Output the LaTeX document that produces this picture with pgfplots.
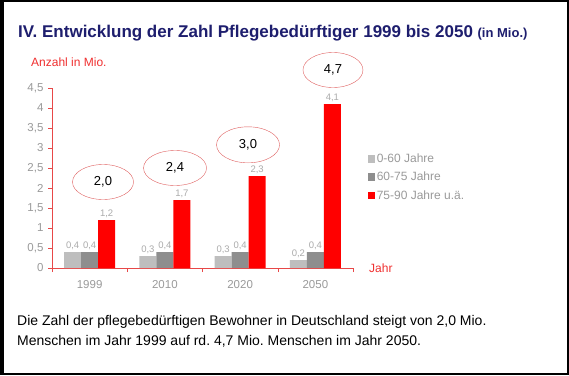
\documentclass[border=0pt]{standalone}
\usepackage{fontspec}
\setmainfont{Liberation Sans}
\usepackage{pgfplots}
\pgfplotsset{compat=1.18}
\usetikzlibrary{shapes.geometric}
\frenchspacing
\definecolor{navy}{HTML}{1E1E6E}
\definecolor{axred}{HTML}{E84848}
\definecolor{ellred}{HTML}{E06060}
\definecolor{lgray}{HTML}{BEBEBE}
\definecolor{dgray}{HTML}{8E8E8E}
\definecolor{tgray}{HTML}{9A9A9A}
\definecolor{lblgray}{HTML}{ABABAB}
\definecolor{barred}{HTML}{FF0000}
\definecolor{txtred}{HTML}{F03030}
\begin{document}
\begin{tikzpicture}[x=1pt,y=1pt]
\useasboundingbox (0,0) rectangle (569,375);
\fill[white] (0,0) rectangle (569,375);
\draw[line width=2pt] (1,1) rectangle (568,374);
\fill[black] (0,0) rectangle (4,375);
\node[anchor=base west, text=navy, inner sep=0pt] at (18,337)
  {\bfseries\fontsize{17}{20}\selectfont IV. Entwicklung der Zahl Pflegebedürftiger 1999 bis 2050 {\fontsize{13}{15}\selectfont (in Mio.)}};
\node[anchor=base west, text=txtred, inner sep=0pt] at (31,308) {\fontsize{12}{14}\selectfont Anzahl in Mio.};
\node[anchor=base west, text=txtred, inner sep=0pt] at (369,103) {\fontsize{12}{14}\selectfont Jahr};
\node[anchor=base west, inner sep=0pt, align=left, font=\fontsize{14}{20}\selectfont] at (17,30)
  {Die Zahl der pflegebedürftigen Bewohner in Deutschland steigt von 2,0 Mio.\\ Menschen im Jahr 1999 auf rd. 4,7 Mio. Menschen im Jahr 2050.};
\begin{axis}[
  at={(52pt,107pt)}, anchor=south west,
  scale only axis, width=301pt, height=180pt,
  xmin=-0.5, xmax=3.5, ymin=0, ymax=4.5,
  clip=false,
  axis x line=bottom, axis y line=left,
  axis line style={draw=axred, -},
  ybar=0pt, bar width=17pt,
  xtick={0,1,2,3}, xticklabels={1999,2010,2020,2050},
  minor xtick={-0.5,0.5,1.5,2.5,3.5},
  major x tick style={draw=none},
  minor x tick style={draw=axred},
  ytick={0,0.5,...,4.5},
  y tick style={draw=axred},
  tick align=outside,
  major tick length=4pt, minor tick length=4pt,
  ticklabel style={text=tgray, font=\fontsize{11.5}{13}\selectfont},
  /pgf/number format/assume math mode=true,
  /pgf/number format/use comma,
  /pgf/number format/fixed,
  yticklabel style={xshift=-1pt},
  xticklabel style={yshift=-5pt},
  nodes near coords,
  nodes near coords style={text=lblgray, font=\fontsize{9.5}{11}\selectfont, /pgf/number format/fixed, /pgf/number format/fixed zerofill, /pgf/number format/precision=1, /pgf/number format/use comma, inner sep=2pt},
  legend style={at={(1.05,0.645)}, anchor=north west, draw=none, fill=none,
    font=\fontsize{12}{14}\selectfont, text=tgray, row sep=4pt, inner sep=0pt},
  legend cell align=left,
  legend image code/.code={\fill[#1] (0pt,-3.5pt) rectangle (6.5pt,4pt);},
]
\addplot[fill=lgray, draw=none] coordinates {(0,0.4) (1,0.3) (2,0.3) (3,0.2)};
\addplot[fill=dgray, draw=none] coordinates {(0,0.4) (1,0.4) (2,0.4) (3,0.4)};
\addplot[fill=barred, draw=none] coordinates {(0,1.2) (1,1.7) (2,2.3) (3,4.1)};
\legend{0-60 Jahre, 60-75 Jahre, 75-90 Jahre u.ä.}
\node[draw=ellred, ellipse, minimum width=61pt, minimum height=35pt, font=\fontsize{13}{15}\selectfont] at (axis cs:0.178,2.15) {2,0};
\node[draw=ellred, ellipse, minimum width=63pt, minimum height=35pt, font=\fontsize{13}{15}\selectfont] at (axis cs:1.135,2.5) {2,4};
\node[draw=ellred, ellipse, minimum width=63pt, minimum height=36pt, font=\fontsize{13}{15}\selectfont] at (axis cs:2.105,3.08) {3,0};
\node[draw=ellred, ellipse, minimum width=60pt, minimum height=35pt, font=\fontsize{13}{15}\selectfont] at (axis cs:3.234,4.95) {4,7};
\end{axis}
\end{tikzpicture}
\end{document}
